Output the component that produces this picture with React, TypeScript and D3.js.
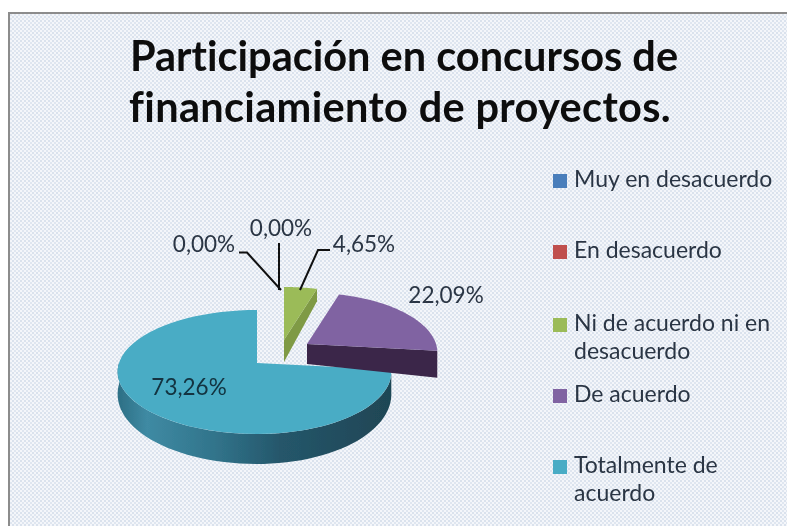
import React from "react";
import * as d3 from "d3";

const categories = ["Muy en desacuerdo", "En desacuerdo", "Ni de acuerdo ni en desacuerdo", "De acuerdo", "Totalmente de acuerdo"];
const values = [0, 0, 4.65, 22.09, 73.26];
const valueLabels = ["0,00%", "0,00%", "4,65%", "22,09%", "73,26%"];
const titleLines = ["Participación en concursos de", "financiamiento de proyectos."];
const legendLines = [["Muy en desacuerdo"], ["En desacuerdo"], ["Ni de acuerdo ni en", "desacuerdo"], ["De acuerdo"], ["Totalmente de", "acuerdo"]];
const colors = ["#4a7ebb", "#c0504d", "#9bbb59", "#8064a2", "#4aacc5"];
const sideColors = ["#2c4d75", "#772c2a", "#7f9a45", "#3a2649", "#2f7287"];

// layout only
const W = 787, H = 526;
const apexes: [number, number][] = [[270, 345], [270, 345], [284, 340], [307, 344], [257, 363]];
const RX = 133, RXL = 138, RY = 62, PERSP = 0.145;
const sliceScale = [1, 1, 1, 0.97, 1];
const wallExtra = [0, 0, 0, 5, 0];
const legendY = [187, 258, 331, 402, 473];
const labelPos: [number, number][] = [[204, 252], [281, 236], [364, 252], [446, 303], [189, 395]];
const titleX = [404, 400];
const titleSpacing = [0, 0.33];

const project = (a: number, i: number, depth = 0): [number, number] => {
  const apex = apexes[i];
  const u = Math.sin(a), v = -Math.cos(a);
  const s = (1 + PERSP * v) * sliceScale[i];
  const d = depth ? 21 + 9 * v + wallExtra[i] : 0;
  return [apex[0] + (u < 0 ? RXL : RX) * u * s, apex[1] + RY * v * s + d];
};
const line = d3.line<[number, number]>();
const pie = d3.pie<number>().sort(null).value((d) => d);
const arcs = pie(values);
const arcPts = (a0: number, a1: number, i: number, depth = 0) =>
  d3.range(0, 61).map((k) => project(a0 + ((a1 - a0) * k) / 60, i, depth));

export default function App() {
  const blue = arcs[4], purple = arcs[3], green = arcs[2];
  const blueTop = [apexes[4], ...arcPts(blue.startAngle, blue.endAngle, 4)] as [number, number][];
  const wallA0 = Math.max(blue.startAngle, 1.62), wallA1 = 4.72;
  const blueWall = [...arcPts(wallA0, wallA1, 4), ...arcPts(wallA0, wallA1, 4, 1).reverse()];
  const pTop = [apexes[3], ...arcPts(purple.startAngle, purple.endAngle, 3)] as [number, number][];
  const pWall: [number, number][] = [apexes[3], project(purple.endAngle, 3), project(purple.endAngle, 3, 1), [apexes[3][0], apexes[3][1] + 20]];
  const gTop = [apexes[2], ...arcPts(green.startAngle, green.endAngle, 2)] as [number, number][];
  const gWall: [number, number][] = [apexes[2], project(green.endAngle, 2), project(green.endAngle, 2, 1), [apexes[2][0], apexes[2][1] + 22]];
  const font = "Lato, 'Open Sans', sans-serif";
  const ink = "#2b3644";
  const noLig = { fontVariantLigatures: "none" } as React.CSSProperties;
  return (
    <svg width={W} height={H} style={{ position: "absolute", left: 0, top: 0 }} role="img" aria-label={categories.join(", ")}>
      <defs>
        <pattern id="dots" width="4" height="4" patternUnits="userSpaceOnUse">
          <rect width="4" height="4" fill="#f4f6fa" />
          <rect x="0" y="0" width="2" height="2" fill="#dae2ed" />
          <rect x="2" y="2" width="2" height="2" fill="#dfe6f0" />
        </pattern>
        <linearGradient id="wall" gradientUnits="userSpaceOnUse" x1="120" x2="390" y1="0" y2="0">
          <stop offset="0" stopColor="#2e7187" />
          <stop offset="0.1" stopColor="#3f8aa3" />
          <stop offset="0.35" stopColor="#31748b" />
          <stop offset="0.6" stopColor="#25566a" />
          <stop offset="1" stopColor="#1f4655" />
        </linearGradient>
        <filter id="soft" x="-5%" y="-5%" width="110%" height="110%">
          <feGaussianBlur stdDeviation="0.55" />
        </filter>
        <filter id="softText" x="-5%" y="-20%" width="110%" height="140%">
          <feGaussianBlur stdDeviation="0.35" />
        </filter>
      </defs>
      <rect width={W} height={H} fill="#fff" />
      <rect x={8} y={12} width={W - 8} height={H - 12} fill="url(#dots)" />
      <path d={`M9 ${H}V13H${W}`} fill="none" stroke="#8c8c8c" strokeWidth={2} />
      <g filter="url(#soft)">
        <path d={line(blueWall)!} fill="url(#wall)" />
        <path d={line(blueTop)! + "Z"} fill={colors[4]} />
        <path d={line(pWall)! + "Z"} fill={sideColors[3]} />
        <path d={line(pTop)! + "Z"} fill={colors[3]} />
        <path d={line(gWall)! + "Z"} fill={sideColors[2]} />
        <path d={line(gTop)! + "Z"} fill={colors[2]} />
      </g>
      <g fill="none" stroke="#111" strokeWidth={2}>
        <path d={line([[239, 252.5], [247, 252.5], [281, 290]])!} />
        <path d={line([[279, 243], [279, 290]])!} />
        <path d={line([[330, 250], [318, 250], [300, 290]])!} />
      </g>
      <g filter="url(#softText)">
        <g fontFamily={font} fontSize={22.5} textAnchor="middle" style={noLig}>
          {valueLabels.map((t, i) => (
            <text key={i} x={labelPos[i][0]} y={labelPos[i][1]} fill={i === 4 ? "#12323f" : ink}>{t}</text>
          ))}
        </g>
        <g fontFamily={font} fontWeight={700} fontSize={41.5} fill="#0b0b0b" textAnchor="middle" style={noLig}>
          {titleLines.map((t, i) => (
            <text key={i} x={titleX[i]} y={71 + i * 51} letterSpacing={titleSpacing[i]}>{t}</text>
          ))}
        </g>
        <g fontFamily={font} fontSize={23} fill={ink} style={noLig}>
          {legendLines.map((ls, i) => (
            <g key={i}>
              <rect x={553} y={legendY[i] - 13} width={14} height={14} fill={colors[i]} />
              {ls.map((t, j) => (
                <text key={j} x={574} y={legendY[i] + j * 28}>{t}</text>
              ))}
            </g>
          ))}
        </g>
      </g>
    </svg>
  );
}
